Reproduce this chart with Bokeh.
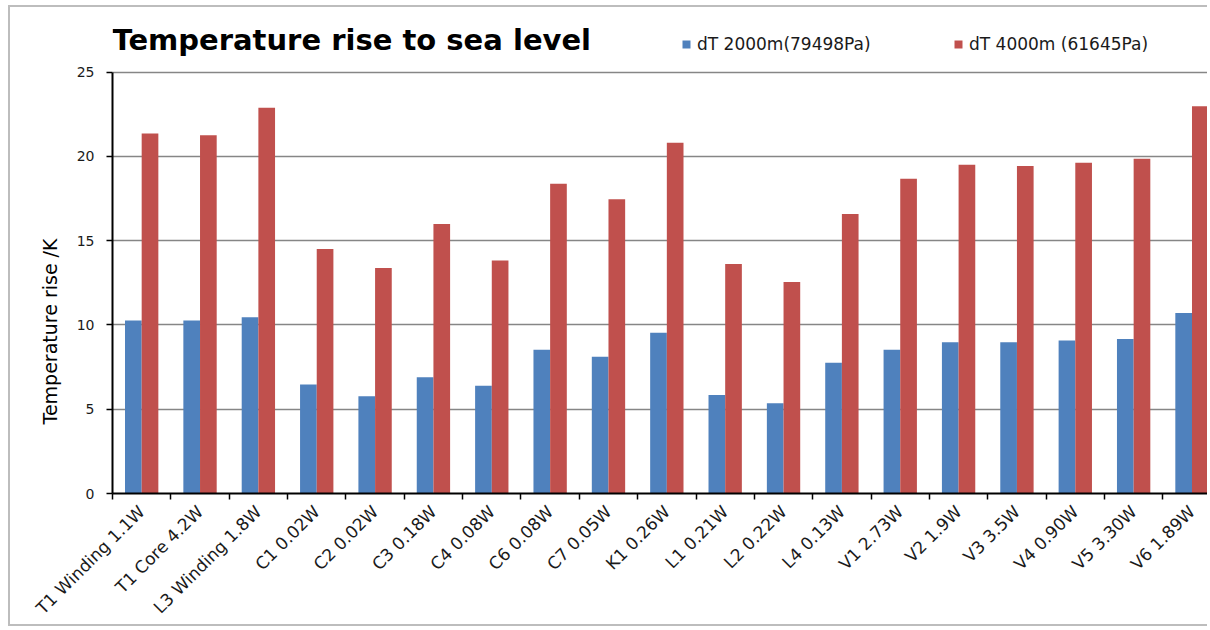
from math import pi
from bokeh.plotting import figure
from bokeh.models import ColumnDataSource, FixedTicker, Legend, LegendItem, Label, Title
from bokeh.transform import dodge
from bokeh.embed import file_html
from bokeh.resources import INLINE

categories = ["T1 Winding 1.1W", "T1 Core 4.2W", "L3 Winding 1.8W", "C1 0.02W", "C2 0.02W",
              "C3 0.18W", "C4 0.08W", "C6 0.08W", "C7 0.05W", "K1 0.26W", "L1 0.21W",
              "L2 0.22W", "L4 0.13W", "V1 2.73W", "V2 1.9W", "V3 3.5W", "V4 0.90W",
              "V5 3.30W", "V6 1.89W"]
dt_2000 = [10.26, 10.26, 10.46, 6.47, 5.77, 6.9, 6.39, 8.53, 8.11, 9.54, 5.85,
           5.36, 7.76, 8.53, 8.97, 8.97, 9.07, 9.17, 10.71]
dt_4000 = [21.35, 21.25, 22.88, 14.5, 13.37, 15.98, 13.82, 18.38, 17.45, 20.8, 13.62,
           12.54, 16.58, 18.67, 19.5, 19.42, 19.62, 19.86, 22.97]
y_ticks = [0, 5, 10, 15, 20, 25]
series_names = ["dT 2000m(79498Pa)", "dT 4000m (61645Pa)"]
title_text = "Temperature rise to sea level"
y_label = "Temperature rise /K"
colors = ["#4F81BD", "#C0504D"]

FONT = "DejaVu Sans"
BORDER = "2px solid #bdbdbd"

x_centers = [i + 0.5 for i in range(len(categories))]
boundaries = list(range(len(categories) + 1))
source = ColumnDataSource(dict(x=x_centers, cat=categories, a=dt_2000, b=dt_4000))

# the frame reaches above the 25 K line so that title and legend sit inside it
p = figure(width=1199, height=621, x_range=(0, 18.8), y_range=(0, 28.71),
           output_backend="svg", toolbar_location=None,
           min_border_left=102, min_border_right=0, min_border_top=2, min_border_bottom=134,
           styles={"margin-left": "8px", "margin-top": "5px",
                   "border-left": BORDER, "border-top": BORDER, "border-bottom": BORDER})

bw = 1 / 3.5
r1 = p.vbar(x=dodge("x", -bw / 2, range=p.x_range), top="a", width=bw, source=source,
            fill_color=colors[0], line_color=None)
r2 = p.vbar(x=dodge("x", bw / 2, range=p.x_range), top="b", width=bw, source=source,
            fill_color=colors[1], line_color=None)

p.outline_line_color = None
p.xgrid.visible = False
p.ygrid.grid_line_color = "#868686"
p.ygrid.grid_line_width = 1.5
p.ygrid.ticker = FixedTicker(ticks=y_ticks)

xa = p.xaxis[0]
xa.ticker = FixedTicker(ticks=x_centers, minor_ticks=boundaries)
xa.major_label_overrides = {x: c for x, c in zip(x_centers, categories)}
xa.major_tick_line_color = None
xa.minor_tick_out = 6
xa.minor_tick_in = 0
xa.minor_tick_line_color = "#000000"
xa.minor_tick_line_width = 1.5
xa.axis_line_color = "#000000"
xa.axis_line_width = 2
xa.major_label_orientation = pi / 4
xa.major_label_text_font = FONT
xa.major_label_text_font_size = "17px"
xa.major_label_text_color = "#1a1a1a"
xa.major_label_standoff = 9

ya = p.yaxis[0]
ya.ticker = FixedTicker(ticks=y_ticks)
ya.bounds = (min(y_ticks), max(y_ticks))
ya.minor_tick_line_color = None
ya.major_tick_out = 6
ya.major_tick_in = 0
ya.major_tick_line_color = "#000000"
ya.major_tick_line_width = 1.5
ya.axis_line_color = "#000000"
ya.axis_line_width = 2
ya.major_label_text_font = FONT
ya.major_label_text_font_size = "14px"
ya.major_label_text_color = "#1a1a1a"
ya.major_label_standoff = 12

p.add_layout(Title(text=y_label, align="left", offset=69, text_font=FONT,
                   text_font_size="19px", text_font_style="normal",
                   text_color="#000000", standoff=25), "left")

p.add_layout(Label(x=0, y=26.88, text=title_text, text_font=FONT,
                   text_font_size="29px", text_font_style="bold",
                   text_color="#000000", text_align="left", text_baseline="alphabetic"))

for rend, name, loc in [(r1, series_names[0], (569, 439)), (r2, series_names[1], (841, 439))]:
    leg = Legend(items=[LegendItem(label=name, renderers=[rend])], location=loc,
                 orientation="horizontal", padding=0, margin=0, border_line_color=None,
                 background_fill_alpha=0, glyph_width=10, glyph_height=10,
                 label_text_font=FONT, label_text_font_size="17px", label_standoff=6,
                 label_text_color="#1a1a1a", label_height=20)
    p.add_layout(leg)

open("out.html", "w").write(file_html(p, INLINE))
